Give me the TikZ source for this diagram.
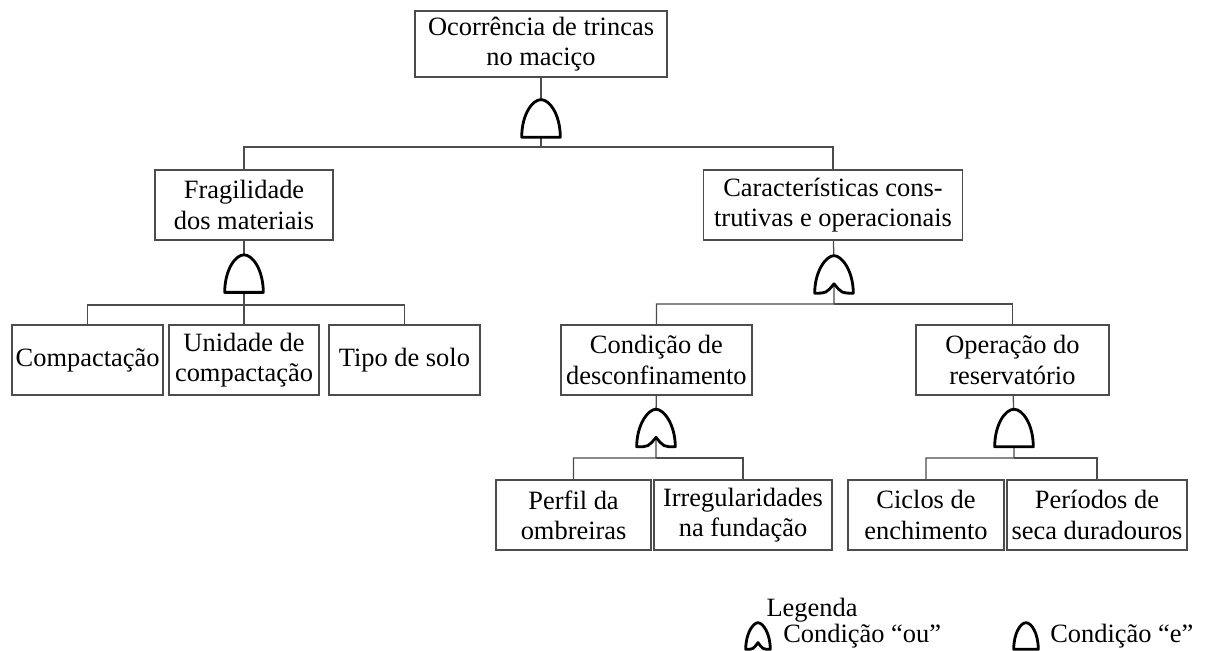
\documentclass[tikz,border=0pt]{standalone}
\usepackage{fontspec}
\setmainfont{Liberation Serif}
\usetikzlibrary{positioning, calc}

\newcommand{\boxfont}{\fontsize{18.8}{21.5}\selectfont}
% gate outlines drawn round an empty node
\newcommand{\andgate}[1]{%
  \draw[gateline] (#1.south west) -- (#1.south east)
    .. controls ($(#1.south east)!0.6!(#1.north east)$) and ($(#1.north)!0.45!(#1.north east)$) .. (#1.north)
    .. controls ($(#1.north)!0.45!(#1.north west)$) and ($(#1.south west)!0.6!(#1.north west)$) .. cycle;}
\newcommand{\orgate}[1]{%
  \draw[gateline] (#1.south west)
    .. controls ($(#1.south west)!0.6!(#1.south)$) .. ($(#1.south)!0.25!(#1.north)$)
    .. controls ($(#1.south east)!0.6!(#1.south)$) .. (#1.south east)
    .. controls ($(#1.south east)!0.6!(#1.north east)$) and ($(#1.north)!0.4!(#1.north east)$) .. (#1.north)
    .. controls ($(#1.north)!0.4!(#1.north west)$) and ($(#1.south west)!0.6!(#1.north west)$) .. cycle;}

\begin{document}
\begin{tikzpicture}[
  box/.style={draw=black!70, line width=1pt, minimum height=1.75cm, align=center,
              inner sep=1pt, font=\boxfont},
  gatenode/.style={minimum width=0.95cm, minimum height=0.925cm, inner sep=0pt},
  smallgate/.style={gatenode, minimum width=0.6cm, minimum height=0.65cm},
  gateline/.style={line width=2pt, draw=black, fill=white, line join=round},
  link/.style={draw=black!70, line width=0.9pt},
  legtext/.style={font=\boxfont, inner sep=0pt},
]
\useasboundingbox (0,0) rectangle (30.5,-16.275);

% Nodes
\node[box, minimum width=6.3cm, minimum height=1.65cm] (top) at (13.525,-1.1) {Ocorrência de trincas\\no maciço};
\node[gatenode] (g1) at (13.525,-2.96) {};
\coordinate (b1) at (13.525,-3.675);

\node[box, minimum width=4.45cm] (frag) at (6.1,-5.125) {Fragilidade\\dos materiais};
\node[box, minimum width=6.475cm] (carac) at (20.825,-5.125) {Características cons-\\trutivas e operacionais};

\node[gatenode] (g2) at (6.1,-6.84) {};
\coordinate (b2) at (6.1,-7.625);
\node[box, minimum width=3.775cm] (comp) at (2.19,-9.0) {Compactação};
\node[box, minimum width=3.75cm] (unid) at (6.1,-9.0) {Unidade de\\compactação};
\node[box, minimum width=3.775cm] (tipo) at (10.11,-9.0) {Tipo de solo};

\node[gatenode] (g3) at (20.85,-6.86) {};
\coordinate (b3) at (20.85,-7.6);
\node[box, minimum width=4.775cm] (cond) at (16.41,-9.0) {Condição de\\desconfinamento};
\node[box, minimum width=4.825cm] (oper) at (25.31,-9.0) {Operação do\\reservatório};

\node[gatenode] (g4) at (16.4,-10.7) {};
\coordinate (b4) at (16.4,-11.45);
\node[gatenode] (g5) at (25.35,-10.7) {};
\coordinate (b5) at (25.35,-11.45);
\node[box, minimum width=3.875cm] (perf) at (14.34,-12.875) {Perfil da\\ombreiras};
\node[box, minimum width=4.45cm] (irreg) at (18.575,-12.875) {Irregularidades\\na fundação};
\node[box, minimum width=3.9cm] (cicl) at (23.15,-12.875) {Ciclos de\\enchimento};
\node[box, minimum width=4.5cm] (peri) at (27.425,-12.875) {Períodos de\\seca duradouros};

% Legend
\node[legtext] (leg) at (20.3,-15.25) {Legenda};
\node[smallgate] (lor) at (18.95,-15.9) {};
\node[legtext, anchor=west] (lort) at (19.575,-15.9) {Condição “ou”};
\node[smallgate] (land) at (25.65,-15.9) {};
\node[legtext, anchor=west] (landt) at (26.25,-15.9) {Condição “e”};

% Links
\draw[link] (top) -- (g1.center) -- (b1) -| (frag.north);
\draw[link] (b1) -| (carac.north);
\draw[link] (frag) -- (g2.center) -- (b2) -| (comp.north);
\draw[link] (b2) -- (unid.north);
\draw[link] (b2) -| (tipo.north);
\draw[link] (carac) -- (g3.center) -- (b3) -| (cond.north);
\draw[link] (b3) -| (oper.north);
\draw[link] (cond) -- (g4.center) -- (b4) -| (perf.north);
\draw[link] (b4) -| (irreg.north);
\draw[link] (oper) -- (g5.center) -- (b5) -| (cicl.north);
\draw[link] (b5) -| (peri.north);

% Gates
\andgate{g1}
\andgate{g2}
\orgate{g3}
\orgate{g4}
\andgate{g5}
\orgate{lor}
\andgate{land}

\end{tikzpicture}
\end{document}
